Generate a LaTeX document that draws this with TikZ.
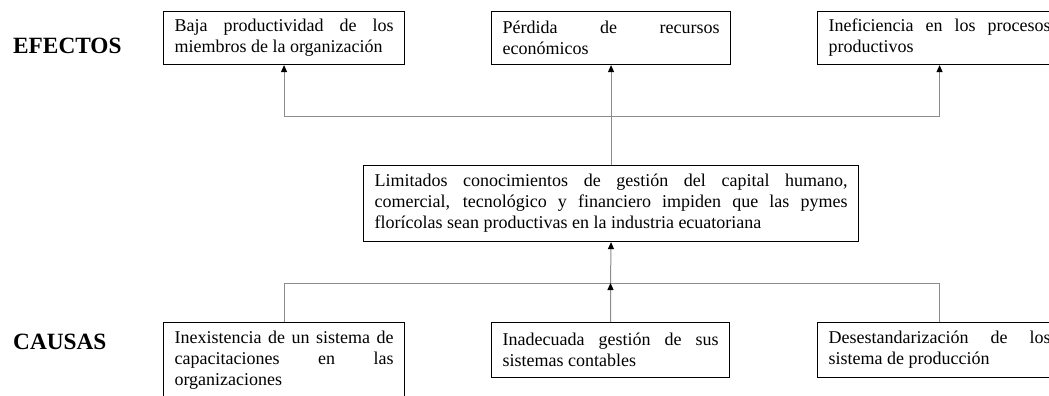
\documentclass[tikz,border=0pt]{standalone}
\usepackage{fontspec}
\setmainfont{Liberation Serif}
\usetikzlibrary{arrows.meta}
\definecolor{lnc}{RGB}{140,140,140}
\newcommand\jl[2]{\makebox[#1][s]{\spaceskip=0pt\relax#2}}
\newcommand\nl[1]{\mbox{\spaceskip=0pt\relax#1}}
\begin{document}
\begin{tikzpicture}[x=1pt,y=-1pt,
  box/.style={draw=black, line width=1.1pt, inner xsep=11pt, inner ysep=0pt,
    align=left, anchor=north west, font=\fontsize{18}{21}\selectfont},
  lbl/.style={anchor=base west, inner sep=0pt, font=\fontsize{23.3}{26}\selectfont\bfseries},
  conn/.style={draw=lnc, line width=1pt},
  tip/.style={-{Triangle[length=7pt,width=6pt,color=black]}}]
\useasboundingbox (0,0) rectangle (1049,396);
\clip (0,0) rectangle (1049,396);
\node[lbl] (efectos) at (13,54) {EFECTOS};
\node[lbl] (causas) at (13,349) {CAUSAS};
% effects
\node[box, text width=219pt, minimum height=53pt] (ef1) at (163,11)
  {\jl{219pt}{Baja productividad de los}\\\nl{miembros de la organización}};
\node[box, text width=217pt, minimum height=53pt] (ef2) at (491,11)
  {\jl{217pt}{Pérdida de recursos}\\\nl{económicos}};
\node[box, text width=222pt, minimum height=53pt] (ef3) at (817,11)
  {\jl{222pt}{Ineficiencia en los procesos}\\\nl{productivos}};
% central problem
\node[box, text width=473pt, minimum height=76pt] (center) at (363,165)
  {\jl{473pt}{Limitados conocimientos de gestión del capital humano,}\\
   \jl{473pt}{comercial, tecnológico y financiero impiden que las pymes}\\
   \nl{florícolas sean productivas en la industria ecuatoriana}};
% causes
\node[box, text width=219pt, minimum height=76pt] (ca1) at (163,322)
  {\jl{219pt}{Inexistencia de un sistema de}\\\jl{219pt}{capacitaciones en las}\\\nl{organizaciones}};
\node[box, text width=216pt, minimum height=55pt] (ca2) at (491,322)
  {\jl{216pt}{Inadecuada gestión de sus}\\\nl{sistemas contables}};
\node[box, text width=222pt, minimum height=55pt] (ca3) at (817,322)
  {\jl{222pt}{Desestandarización de los}\\\nl{sistema de producción}};
% junctions
\coordinate (jt) at (610.5,116);
\coordinate (jb) at (610.5,283);
% connectors
\draw[conn,tip] (center.north) -- (ef2.south);
\draw[conn,tip] (jt) -| (ef1.south);
\draw[conn,tip] (jt) -| (ef3.south);
\draw[conn,tip] (jb) -- (center.south);
\draw[conn] (ca1.north) |- (jb);
\draw[conn] (ca3.north) |- (jb);
\draw[conn,tip] (ca2.north) -- (jb);
\end{tikzpicture}
\end{document}
